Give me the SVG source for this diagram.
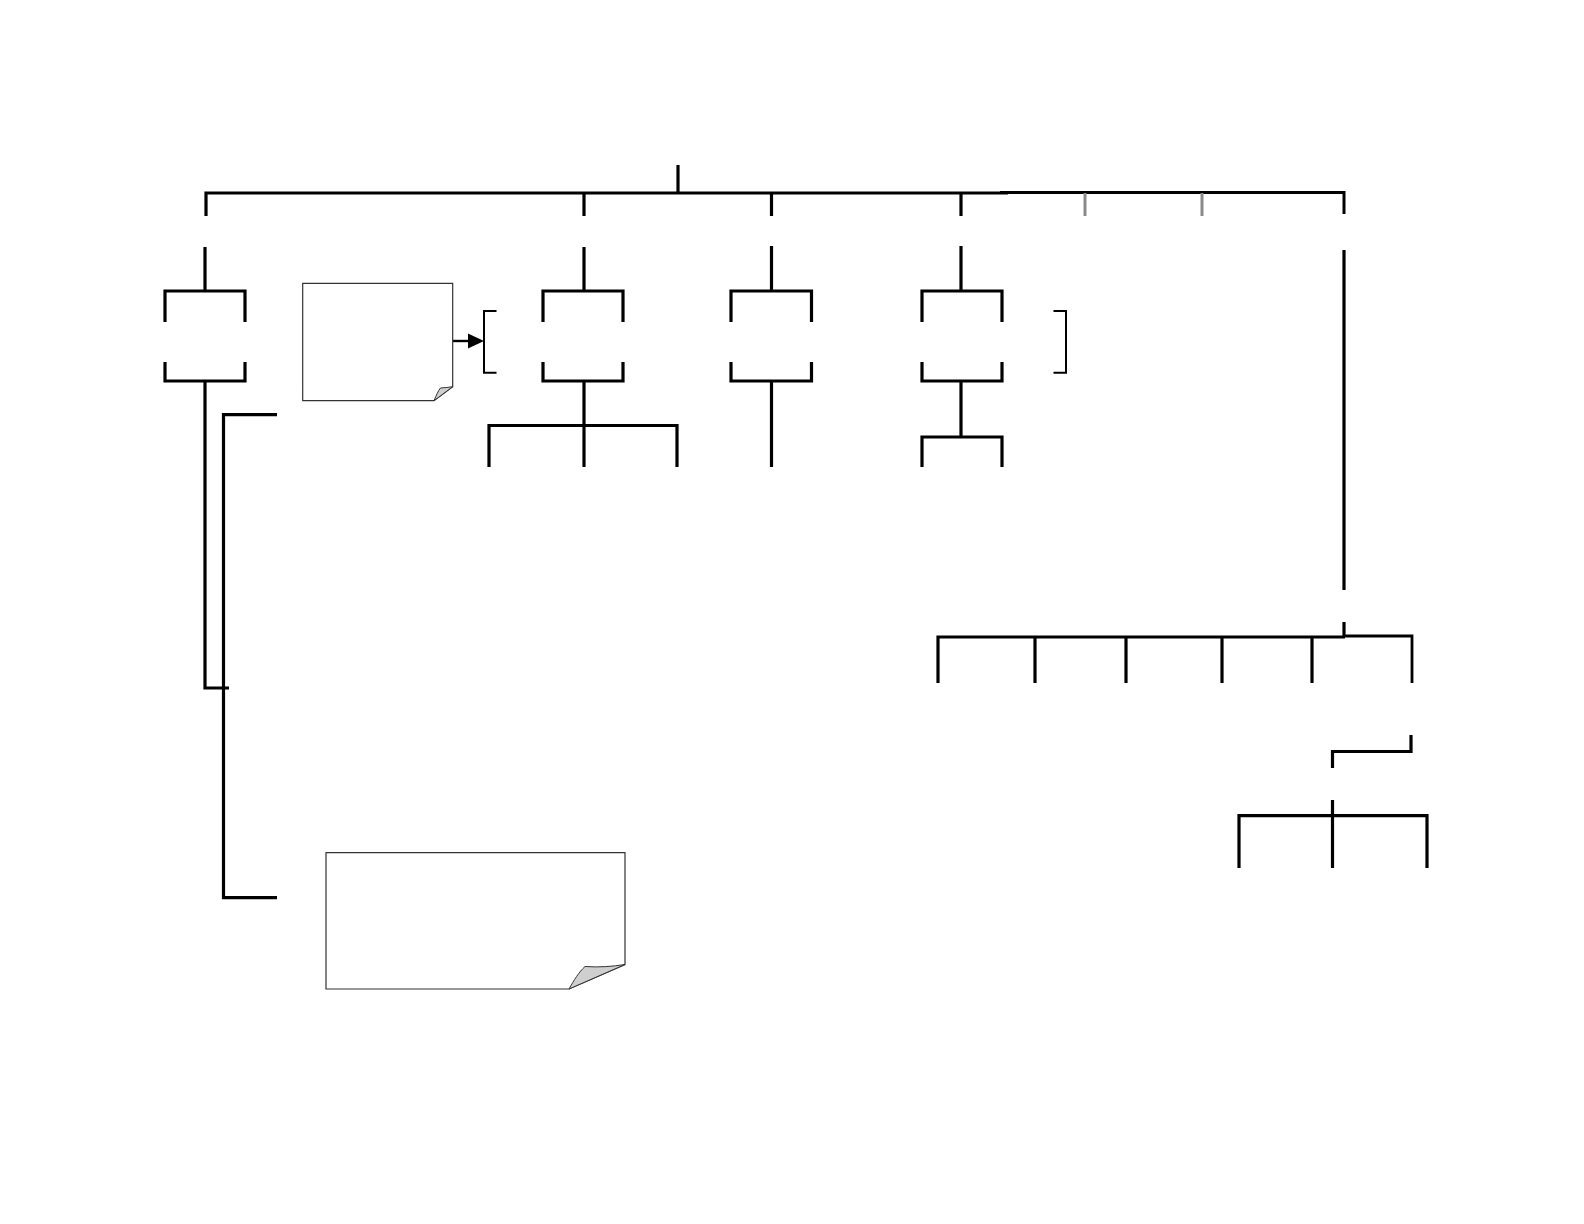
<svg xmlns="http://www.w3.org/2000/svg" width="1584" height="1224" viewBox="0 0 1584 1224">
<style>
.c{fill:none;stroke:#000;stroke-width:3.2;stroke-linecap:butt;stroke-linejoin:miter}
.g{fill:none;stroke:#8a8a8a;stroke-width:3}
.b{fill:none;stroke:#000;stroke-width:2}
.note{fill:#fff;stroke:#333;stroke-width:1.2}
.fold{fill:#cfcfcf;stroke:#333;stroke-width:1}
</style>
<rect width="1584" height="1224" fill="#fff"/>
<g id="connectors">
<path class="c" d="M678,165 V193"/>
<path class="c" d="M206,216 V193 H1008"/>
<path class="c" d="M1000,192.5 H1344 V214" style="stroke-width:3"/>
<path class="c" d="M584,193 V216"/>
<path class="c" d="M771.5,193 V216"/>
<path class="c" d="M961,193 V216"/>
<path class="g" d="M1085,193 V216"/>
<path class="g" d="M1202,193 V216"/>
<!-- column 1 -->
<path class="c" d="M205,247 V291"/>
<path class="c" d="M165,322 V291 H245 V322"/>
<path class="c" d="M165,362 V381 H245 V362"/>
<path class="c" d="M205,381 V688 H229"/>
<path class="c" d="M277,414.7 H223.5 V897.6 H277"/>
<!-- column 2 -->
<path class="c" d="M584,247 V291"/>
<path class="c" d="M543,322 V291 H623 V322"/>
<path class="c" d="M543,362 V381 H623 V362"/>
<path class="c" d="M584,381 V467"/>
<path class="c" d="M489,467 V425.5 H677 V467"/>
<!-- column 3 -->
<path class="c" d="M771.5,246 V291"/>
<path class="c" d="M731,322 V291 H811.5 V322"/>
<path class="c" d="M731,362 V381 H811.5 V362"/>
<path class="c" d="M771.5,381 V467"/>
<!-- column 4 -->
<path class="c" d="M961,246 V291"/>
<path class="c" d="M922,322 V291 H1002 V322"/>
<path class="c" d="M922,362 V381 H1002 V362"/>
<path class="c" d="M961,381 V437"/>
<path class="c" d="M922,467 V437 H1002 V467"/>
<!-- brackets -->
<path class="b" d="M496.5,311 H484 V372.7 H496.5"/>
<path class="b" d="M1053.5,311 H1066 V372.7 H1053.5"/>
<!-- arrow -->
<path class="c" d="M452.7,341 H476" style="stroke-width:2.4"/>
<path d="M468,333.5 L484,341 L468,348.5 Z" fill="#000"/>
<!-- right branch -->
<path class="c" d="M1344,250 V590"/>
<path class="c" d="M1344,622 V636"/>
<path class="c" d="M938,683 V637 H1345"/>
<path class="c" d="M1343,636 H1412 V683" style="stroke-width:2.8"/>
<path class="c" d="M1035,637 V683"/>
<path class="c" d="M1126,637 V683"/>
<path class="c" d="M1222,637 V683"/>
<path class="c" d="M1312,637 V683"/>
<path class="c" d="M1411,735 V751.5 H1332.5 V768"/>
<path class="c" d="M1332.5,800 V868"/>
<path class="c" d="M1239,868 V815.7 H1427 V868"/>
</g>
<g id="note1">
<path class="note" d="M302.7,283.3 H452.7 V386.7 L434,400.7 H302.7 Z"/>
<path class="fold" d="M434,400.7 C436.5,395 438,391 440.5,388 C445,387.6 449,387.4 452.7,386.7 Z"/>
</g>
<g id="note2">
<path class="note" d="M326,852.7 H625 V964.5 L569,989 H326 Z"/>
<path class="fold" d="M569,989 C574,980 579,972 585,966.5 C600,967.5 612,966.5 625,964.5 Z"/>
</g>
</svg>
